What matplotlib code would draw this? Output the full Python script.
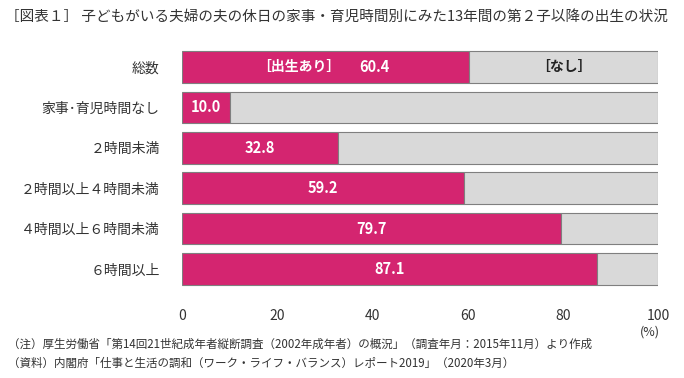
import numpy as np
import matplotlib.pyplot as plt

plt.rcParams['font.family'] = ['Noto Sans CJK JP', 'DejaVu Sans']

categories = ["総数", "家事･育児時間なし", "２時間未満", "２時間以上４時間未満",
              "４時間以上６時間未満", "６時間以上"]
birth_yes = [60.4, 10.0, 32.8, 59.2, 79.7, 87.1]

PINK = "#D42570"
GRAY = "#D9D9D9"
EDGE = "#7F7F7F"


def main():
    fig = plt.figure(figsize=(6.84, 3.78), dpi=100)
    ax = fig.add_axes([0.266, 0.235, 0.696, 0.641])

    y = np.arange(len(categories))
    yes = np.array(birth_yes)
    no = 100 - yes
    ax.barh(y, yes, height=0.78, color=PINK, edgecolor=EDGE, linewidth=0.8)
    ax.barh(y, no, left=yes, height=0.78, color=GRAY, edgecolor=EDGE, linewidth=0.8)

    for i, v in enumerate(yes):
        if i == 0:
            ax.text(24.5, i, "［出生あり］", color="white", ha="center", va="center",
                    fontsize=10, fontweight="bold")
            ax.text(40.5, i, f"{v:.1f}", color="white", ha="center", va="center",
                    fontsize=10.5, fontweight="bold")
            ax.text((v + 100) / 2, i, "［なし］", color="#222222", ha="center", va="center",
                    fontsize=10, fontweight="bold")
        else:
            ax.text(v / 2, i, f"{v:.1f}", color="white", ha="center", va="center",
                    fontsize=10.5, fontweight="bold")

    ax.set_xlim(0, 100)
    ax.set_ylim(len(categories) - 0.5, -0.5)
    ax.set_yticks(y)
    ax.set_yticklabels(categories, fontsize=10, color="#333333")
    ax.set_xticks([0, 20, 40, 60, 80, 100])
    ax.tick_params(axis="x", labelsize=10, colors="#333333", length=0, pad=14)
    ax.tick_params(axis="y", length=0, pad=16)
    for s in ax.spines.values():
        s.set_visible(False)

    fig.text(0.964, 0.122, "(%)", ha="right", va="center", fontsize=9, color="#333333")
    fig.text(0.008, 0.955, "［図表１］ 子どもがいる夫婦の夫の休日の家事・育児時間別にみた13年間の第２子以降の出生の状況",
             fontsize=10.5, color="#333333", va="center")
    fig.text(0.012, 0.090, "（注）厚生労働省「第14回21世紀成年者縦断調査（2002年成年者）の概況」（調査年月：2015年11月）より作成",
             fontsize=8.3, color="#333333", va="center")
    fig.text(0.012, 0.040, "（資料）内閣府「仕事と生活の調和（ワーク・ライフ・バランス）レポート2019」（2020年3月）",
             fontsize=8.3, color="#333333", va="center")

    fig.savefig("out.png", dpi=100)


if __name__ == '__main__':
    main()
